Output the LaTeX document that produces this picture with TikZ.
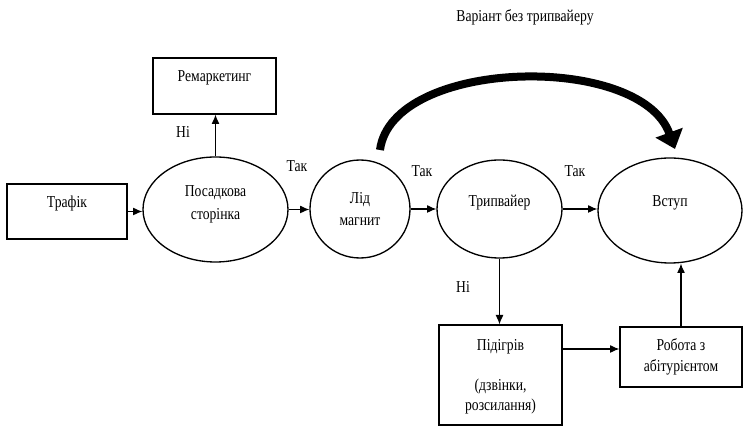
\documentclass[tikz,border=0pt]{standalone}
\usepackage{fontspec}
\setmainfont[FakeStretch=0.82]{Liberation Serif}
\usetikzlibrary{shapes.geometric,arrows.meta}
\begin{document}
\begin{tikzpicture}[x=0.75pt,y=-0.75pt,
  font=\fontsize{12.5}{15}\selectfont,
  box/.style={draw, rectangle, line width=1pt, inner sep=0pt},
  oval/.style={draw, ellipse, line width=1pt, inner sep=0pt},
  arr/.style={-{Latex[length=7pt,width=6pt]}, line width=0.8pt},
  lbl/.style={inner sep=0pt},
  bigarr/.style={line width=6pt, -{Triangle[length=13pt,width=21pt]}}]
\fill[white] (0,0) rectangle (743,427);
\useasboundingbox (0,0) rectangle (743,427);

\node[box, minimum width=90pt, minimum height=41.25pt,
  label={[yshift=6pt]center:Трафік}] (traf) at (67,211.5) {};
\node[oval, minimum width=108.75pt, minimum height=78.75pt,
  label={[yshift=4pt,align=center]center:{Посадкова\\[2pt]сторінка}}] (posad) at (215.5,209.5) {};
\node[oval, minimum width=75pt, minimum height=73.5pt,
  label={[align=center]center:{Лід\\[2pt]магнит}}] (lid) at (360,209) {};
\node[oval, minimum width=93.75pt, minimum height=73.5pt,
  label={[yshift=4.5pt]center:Трипвайер}] (trip) at (499.5,209) {};
\node[oval, minimum width=108pt, minimum height=78.75pt,
  label={[yshift=6pt]center:Вступ}] (vstup) at (670,210.5) {};
\node[box, minimum width=92.25pt, minimum height=42pt,
  label={[yshift=6pt]center:Ремаркетинг}] (rem) at (214.5,86) {};
\node[box, minimum width=92.25pt, minimum height=75pt] (pidg) at (500.5,375) {};
\node[lbl, align=center, anchor=north] (pidgtxt) at (500.5,339) {Підігрів\\[15pt](дзвінки,\\розсилання)};
\node[box, minimum width=91.5pt, minimum height=45pt, align=center] (rob) at (681,357) {Робота з\\[1pt]абітурієнтом};

\draw[arr] (traf.east) -- (traf.east -| posad.west);
\draw[arr] (posad.east) -- (posad.east -| lid.west);
\draw[arr] (lid.east) -- (lid.east -| trip.west);
\draw[arr] (trip.east) -- (trip.east -| vstup.west);
\draw[arr] (posad.north) -- (posad.north |- rem.south);
\draw[arr] (trip.south) -- (trip.south |- pidg.north);
\coordinate (rw) at ([yshift=6pt]rob.west);
\draw[arr] (rw -| pidg.east) -- (rw);
\draw[arr] (rob.north) -- (rob.north |- vstup.south);

\coordinate (bs) at (380,150);
\coordinate (be) at (675,149);
\draw[bigarr] (bs) .. controls (392,58) and (640,52) .. (be);

\node[lbl] (tak1) at (297,166) {Так};
\node[lbl] (tak2) at (422,171) {Так};
\node[lbl] (tak3) at (575,171) {Так};
\node[lbl] (ni1) at (183,132) {Ні};
\node[lbl] (ni2) at (463,287) {Ні};
\node[lbl] (title) at (525,17) {Варіант без трипвайеру};
\end{tikzpicture}
\end{document}
